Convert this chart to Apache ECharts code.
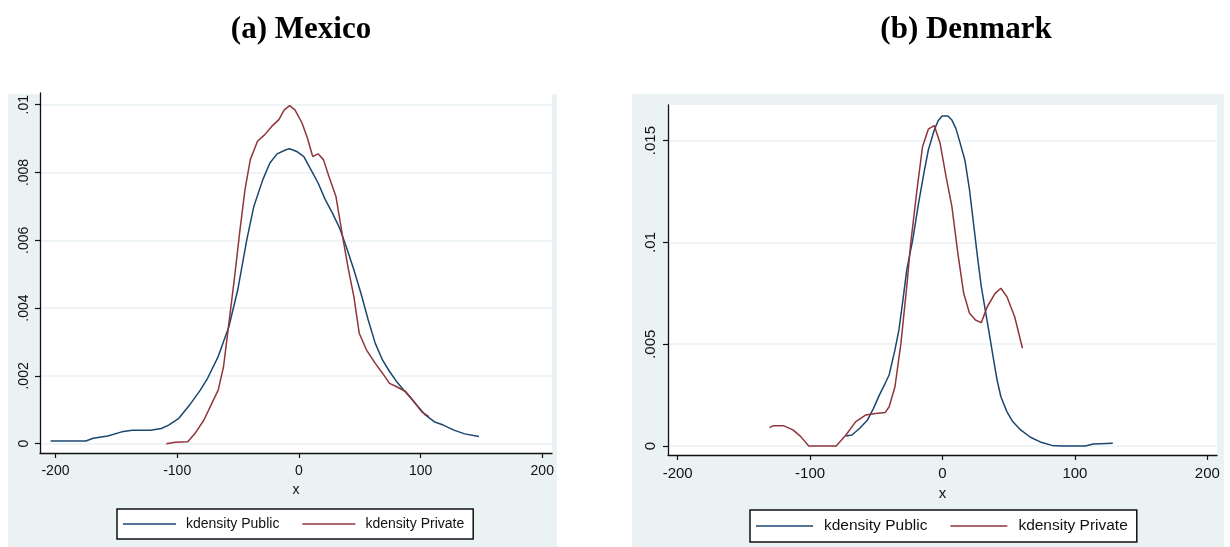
<!DOCTYPE html>
<html>
<head>
<meta charset="utf-8">
<script src="https://cdn.jsdelivr.net/npm/echarts@6/dist/echarts.min.js"></script>
<style>
  html, body { margin: 0; padding: 0; background: #ffffff; }
  #chart { width: 1230px; height: 547px; }
</style>
</head>
<body>
<div id="chart"></div>
<script>
// ---------- data ----------
const seriesNames = ['kdensity Public', 'kdensity Private'];
const panelTitles = ['(a) Mexico', '(b) Denmark'];
const xTicks = [-200, -100, 0, 100, 200];
const yTicksMexico = [0, 0.002, 0.004, 0.006, 0.008, 0.01];
const yTicksDenmark = [0, 0.005, 0.01, 0.015];

const mexPublicX = [-204, -175, -169, -157, -145.5, -137, -122, -113, -107, -98.6, -89.8, -81, -75, -66.3, -57.5, -50.2, -42.8, -37, -29.6, -23.8, -17.9, -10.6, -7.6, -1.8, 4.1, 10, 15.8, 21.7, 27.6, 33.5, 39.3, 45.2, 51, 57, 62.8, 68.7, 74.5, 80.4, 86.3, 92.1, 98, 103.9, 111.2, 118.6, 127.4, 136.2, 148];
const mexPublicY = [0.00008, 0.00008, 0.00016, 0.00023, 0.00035, 0.0004, 0.0004, 0.00045, 0.00055, 0.00075, 0.00114, 0.00158, 0.00193, 0.00257, 0.00345, 0.00454, 0.00601, 0.0070, 0.00779, 0.00828, 0.00855, 0.00867, 0.0087, 0.00862, 0.00847, 0.00808, 0.00769, 0.0072, 0.0068, 0.00636, 0.00577, 0.00513, 0.00444, 0.00365, 0.00296, 0.00247, 0.00213, 0.00183, 0.00158, 0.00134, 0.00109, 0.00085, 0.00065, 0.00055, 0.0004, 0.00029, 0.00021];

const mexPrivateX = [-108.9, -101.5, -91.3, -85.4, -78, -72.2, -66.3, -61.9, -57.5, -53.1, -48.7, -44.3, -39.9, -34, -28.2, -22.3, -16.4, -12, -7.6, -3.2, 2.6, 7, 11.4, 15.8, 20.2, 24.7, 30.5, 36.4, 40.8, 45.2, 49.6, 55.5, 62.8, 68.7, 74.5, 80.4, 87.7, 93.6, 101, 106.8];
const mexPrivateY = [0, 0.00004, 0.00006, 0.0003, 0.0007, 0.00114, 0.00158, 0.00227, 0.00355, 0.00483, 0.00621, 0.00749, 0.00838, 0.00892, 0.00911, 0.00936, 0.00956, 0.00985, 0.00997, 0.00985, 0.00946, 0.00902, 0.00847, 0.00855, 0.00838, 0.00788, 0.00729, 0.00601, 0.00513, 0.00434, 0.00326, 0.00277, 0.00237, 0.00208, 0.00178, 0.00168, 0.00154, 0.00129, 0.00094, 0.0008];

const denPublicX = [-72.9, -68.4, -62.5, -56.6, -52.1, -47.7, -43.3, -40.3, -35.9, -32.9, -29.9, -27, -22.5, -18.1, -13.6, -10.7, -6.2, -3.3, -0.3, 4.1, 7.1, 10.1, 13, 16.9, 20.4, 23.4, 26.4, 29.3, 32.3, 35.3, 38.2, 41.2, 44.1, 48.6, 53, 59, 66.4, 73.8, 82.7, 90, 107.9, 113.8, 128.6];
const denPublicY = [0.00049, 0.00054, 0.00087, 0.00128, 0.00185, 0.0025, 0.00308, 0.00349, 0.00472, 0.0057, 0.00717, 0.00865, 0.01012, 0.01192, 0.01356, 0.01454, 0.01552, 0.01598, 0.01621, 0.01621, 0.01601, 0.0156, 0.01495, 0.01405, 0.01258, 0.01094, 0.0093, 0.00783, 0.00668, 0.00553, 0.00439, 0.00324, 0.00242, 0.00169, 0.0012, 0.00079, 0.00043, 0.0002, 0.00003, 0, 0, 0.0001, 0.00013];

const denPrivateX = [-130.7, -127.7, -120.3, -112.9, -107, -101, -80.3, -72.9, -65.5, -58.1, -50.7, -43.3, -40.3, -35.9, -31.4, -27, -24, -19.6, -15.1, -10.7, -6.2, -1.8, 2.7, 7.1, 11.6, 16, 20.4, 24.9, 29.3, 33.8, 39.7, 44.1, 48.6, 54.5, 60.4];
const denPrivateY = [0.0009, 0.001, 0.001, 0.00079, 0.00046, 0, 0, 0.00054, 0.0012, 0.00152, 0.0016, 0.00164, 0.00193, 0.00291, 0.00504, 0.00783, 0.00996, 0.01241, 0.0147, 0.01556, 0.01574, 0.01487, 0.01323, 0.01176, 0.00946, 0.0075, 0.00652, 0.00619, 0.00606, 0.00684, 0.0075, 0.00775, 0.00734, 0.00635, 0.0048];

// ---------- helpers ----------
const zip = (xs, ys) => xs.map((x, i) => [x, ys[i]]);
const fmtY = v => (v === 0 ? '0' : String(v).replace(/^0\./, '.'));

const BLUE = '#1a476f';
const RED = '#90353b';
const PANEL = '#eaf2f3';
const GRIDC = '#eaf2f3';
const AXC = '#111111';
const FONT = '"Liberation Sans", Arial, sans-serif';

function xAxisCfg(gridIndex, min, max, fs, margin, nameGap) {
  return {
    type: 'value', gridIndex, min, max,
    name: 'x', nameLocation: 'middle', nameGap,
    nameTextStyle: { color: AXC, fontSize: fs, fontFamily: FONT },
    axisLine: { show: true, onZero: false, lineStyle: { color: AXC, width: 1.3 } },
    axisTick: { show: true, customValues: xTicks, length: 5, lineStyle: { color: AXC, width: 1.2 } },
    axisLabel: { customValues: xTicks, color: AXC, fontSize: fs, fontFamily: FONT, margin },
    splitLine: { show: false }
  };
}
function yAxisCfg(gridIndex, min, max, ticks, fs, margin) {
  return {
    type: 'value', gridIndex, min, max,
    axisLine: { show: true, onZero: false, lineStyle: { color: AXC, width: 1.3 } },
    axisTick: { show: true, customValues: ticks, length: 5, lineStyle: { color: AXC, width: 1.2 } },
    axisLabel: { customValues: ticks, color: AXC, fontSize: fs, fontFamily: FONT, rotate: 90, margin, formatter: fmtY },
    splitLine: { show: true, lineStyle: { color: GRIDC, width: 1.5 } }
  };
}
function lineSeries(name, xi, yi, data, color) {
  return {
    name, type: 'line', xAxisIndex: xi, yAxisIndex: yi, data,
    showSymbol: false, symbol: 'none', smooth: false, animation: false,
    lineStyle: { color, width: 1.5 }, itemStyle: { color }
  };
}
function legendCfg(left, top, fs, iw, gap, pad, textGap) {
  return {
    left, top, orient: 'horizontal',
    data: seriesNames, icon: 'rect', itemWidth: iw, itemHeight: 1.6, itemGap: gap,
    backgroundColor: '#ffffff', borderColor: '#111111', borderWidth: 1.5, borderRadius: 0,
    padding: pad, selectedMode: false,
    textStyle: { color: '#111', fontSize: fs, fontFamily: FONT, padding: [0, 0, 0, textGap] }
  };
}

const chart = echarts.init(document.getElementById('chart'), null, { renderer: 'canvas' });
chart.setOption({
  animation: false,
  backgroundColor: '#ffffff',
  graphic: [
    { type: 'rect', z: -100, silent: true, shape: { x: 8, y: 94, width: 549, height: 453 }, style: { fill: PANEL } },
    { type: 'rect', z: -100, silent: true, shape: { x: 632, y: 94, width: 592, height: 453 }, style: { fill: PANEL } }
  ],
  title: [
    { text: panelTitles[0], left: 296, top: 9, textAlign: 'center',
      textStyle: { fontFamily: '"Liberation Serif", "Times New Roman", serif', fontWeight: 'bold', fontSize: 31, color: '#000' } },
    { text: panelTitles[1], left: 961, top: 9, textAlign: 'center',
      textStyle: { fontFamily: '"Liberation Serif", "Times New Roman", serif', fontWeight: 'bold', fontSize: 31, color: '#000' } }
  ],
  grid: [
    { left: 40, top: 93, width: 512, height: 360, show: true, backgroundColor: '#ffffff', borderWidth: 0, containLabel: false, outerBoundsMode: 'none' },
    { left: 668, top: 105, width: 549, height: 350, show: true, backgroundColor: '#ffffff', borderWidth: 0, containLabel: false, outerBoundsMode: 'none' }
  ],
  xAxis: [
    xAxisCfg(0, -212.7, 208, 14, 11, 29),
    xAxisCfg(1, -207.3, 207.3, 15, 11, 30)
  ],
  yAxis: [
    yAxisCfg(0, -0.000274, 0.010345, yTicksMexico, 14, 9),
    yAxisCfg(1, -0.000442, 0.01675, yTicksDenmark, 15, 10)
  ],
  legend: [
    legendCfg(117, 509, 14, 53, 23, [8, 9, 8, 6], 5),
    legendCfg(750, 510, 15.5, 57, 23, [8, 9, 8, 6], 6)
  ],
  series: [
    lineSeries(seriesNames[0], 0, 0, zip(mexPublicX, mexPublicY), BLUE),
    lineSeries(seriesNames[1], 0, 0, zip(mexPrivateX, mexPrivateY), RED),
    lineSeries(seriesNames[0], 1, 1, zip(denPublicX, denPublicY), BLUE),
    lineSeries(seriesNames[1], 1, 1, zip(denPrivateX, denPrivateY), RED)
  ]
});
</script>
</body>
</html>
